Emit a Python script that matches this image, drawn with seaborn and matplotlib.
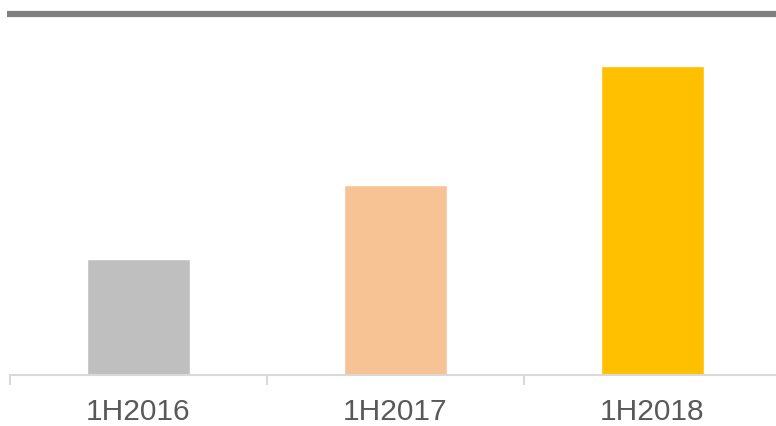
import pandas as pd
import matplotlib.pyplot as plt
import matplotlib.lines as mlines
import seaborn as sns

# --- data (no value axis shown, heights read relative to baseline) ---
periods = ['1H2016', '1H2017', '1H2018']
values = [11.6, 19.0, 30.9]
bar_colors = ['#BFBFBF', '#F8C394', '#FFC000']

df = pd.DataFrame({'period': periods, 'value': values})

sns.set_style('white')
plt.rcParams['font.family'] = ['Liberation Sans', 'DejaVu Sans']

W, H = 776, 426
fig = plt.figure(figsize=(W / 100, H / 100), dpi=100)
# axes spans 10px..781px horizontally, baseline at y=374.5
ax = fig.add_axes([10 / W, (H - 374.5) / H, 771 / W, (374.5 - 16) / H])

sns.barplot(data=df, x='period', y='value', hue='period', palette=bar_colors,
            width=0.4, legend=False, ax=ax, saturation=1)

ax.set_xlim(-0.5, 2.5)
ax.set_ylim(0, 35.85)
ax.set_xlabel('')
ax.set_ylabel('')
ax.set_yticks([])

for side in ['top', 'right', 'left']:
    ax.spines[side].set_visible(False)
ax.spines['bottom'].set_color('#D9D9D9')
ax.spines['bottom'].set_linewidth(1.5)

# boundary ticks (major) and centred labels (minor)
ax.set_xticks([-0.5, 0.5, 1.5, 2.5])
ax.set_xticklabels([])
ax.tick_params(axis='x', which='major', length=7, width=1.5, color='#D9D9D9',
               direction='out', bottom=True)
ax.set_xticks([0, 1, 2], minor=True)
ax.set_xticklabels(periods, minor=True)
ax.tick_params(axis='x', which='minor', length=0, pad=17, labelsize=21.5,
               labelcolor='#595959')

# thick grey rule along the top
fig.add_artist(mlines.Line2D([7 / W, 1], [(H - 13.5) / H] * 2,
                             color='#808080', linewidth=4.5,
                             transform=fig.transFigure, solid_capstyle='butt'))

fig.savefig('out.png', dpi=100)
